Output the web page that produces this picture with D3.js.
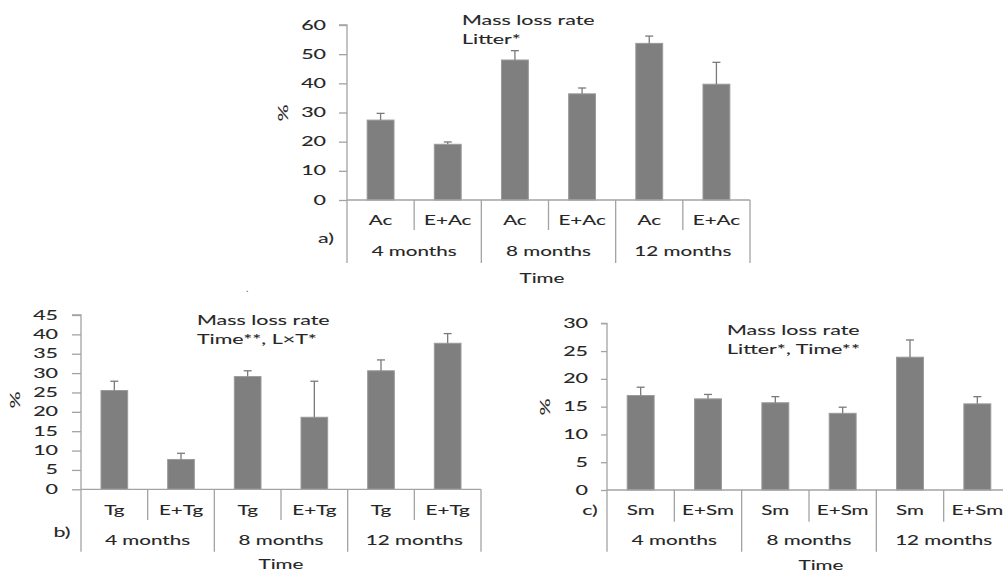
<!DOCTYPE html>
<html><head><meta charset="utf-8">
<script src="https://cdn.jsdelivr.net/npm/d3@7"></script>
<style>body{margin:0;background:#fff;} svg{display:block;}</style>
</head><body>
<svg id="c" width="1003" height="572"></svg>
<script>
const groups = ["4 months", "8 months", "12 months"];
const subA = ["Ac", "E+Ac"];
const subB = ["Tg", "E+Tg"];
const subC = ["Sm", "E+Sm"];
const meanA = [27.4, 19.1, 48.0, 36.4, 53.7, 39.7];
const errA  = [2.3, 0.8, 3.2, 2.0, 2.5, 7.5];
const meanB = [25.5, 7.7, 29.1, 18.6, 30.6, 37.7];
const errB  = [2.4, 1.6, 1.5, 9.3, 2.8, 2.5];
const meanC = [17.0, 16.4, 15.7, 13.8, 23.9, 15.5];
const errC  = [1.5, 0.8, 1.1, 1.1, 3.1, 1.3];
const ticksA = [0, 10, 20, 30, 40, 50, 60];
const ticksB = [0, 5, 10, 15, 20, 25, 30, 35, 40, 45];
const ticksC = [0, 5, 10, 15, 20, 25, 30];
const titleA = ["Mass loss rate", "Litter*"];
const titleB = ["Mass loss rate", "Time**, L\u00d7T*"];
const titleC = ["Mass loss rate", "Litter*, Time**"];

const SX = 1.65;
const FONT = "Lato, 'Open Sans', sans-serif";
const TXT = "#262626";
const AX = "#a3a3a3";
const svg = d3.select("#c");

function txt(g, x, y, s, anchor, size, rot) {
  const t = g.append("g").attr("transform", `translate(${x},${y})` + (rot ? ` rotate(${rot})` : "") + ` scale(${SX},1)`)
    .append("text").text(s)
    .attr("text-anchor", anchor || "middle")
    .attr("dy", "0.35em")
    .attr("font-family", FONT)
    .attr("font-size", size || 13)
    .attr("fill", TXT)
    .attr("stroke", TXT)
    .attr("stroke-width", 0.1);
  return t;
}

function panel(cfg) {
  const g = svg.append("g");
  const cats = [];
  groups.forEach(gr => cfg.sub.forEach(s => cats.push(gr + "|" + s)));
  const x = d3.scaleBand().domain(cats).range([cfg.x0, cfg.x1]).paddingInner(0.6).paddingOuter(0.3);
  const xg = d3.scaleBand().domain(groups).range([cfg.x0, cfg.x1]);
  const y = d3.scaleLinear().domain([0, cfg.ymax]).range([cfg.yb, cfg.yt]);

  // y axis
  const ya = d3.axisLeft(y).tickValues(cfg.ticks).tickSize(cfg.tick).tickFormat("");
  const yg = g.append("g").attr("transform", `translate(${cfg.x0},0)`).call(ya);
  yg.selectAll("path,line").attr("stroke", AX).attr("stroke-width", 1.3);
  yg.select("path").attr("d", `M${-cfg.tick},${y(cfg.ymax)}H0V${y(0)}`);
  cfg.ticks.forEach(v => txt(g, cfg.lblR, y(v), String(v), "end", 13));

  // bars
  const step = x.step();
  g.selectAll("rect.bar").data(cfg.mean).join("rect")
    .attr("x", (d, i) => x(cats[i]))
    .attr("y", d => y(d))
    .attr("width", x.bandwidth())
    .attr("height", d => y(0) - y(d))
    .attr("fill", "#7f7f7f")
    .attr("stroke", "#9a9a9a")
    .attr("stroke-width", 1);
  // error bars
  cfg.mean.forEach((m, i) => {
    const cx = x(cats[i]) + x.bandwidth() / 2;
    g.append("line").attr("x1", cx).attr("x2", cx).attr("y1", y(m)).attr("y2", y(m + cfg.err[i]))
      .attr("stroke", "#7a7a7a").attr("stroke-width", 1.3);
    g.append("line").attr("x1", cx - 4).attr("x2", cx + 4).attr("y1", y(m + cfg.err[i])).attr("y2", y(m + cfg.err[i]))
      .attr("stroke", "#7a7a7a").attr("stroke-width", 1.3);
  });

  // x axis line
  g.append("line").attr("x1", cfg.x0).attr("x2", cfg.x1).attr("y1", y(0)).attr("y2", y(0))
    .attr("stroke", AX).attr("stroke-width", 1.3);
  // dividers
  cats.forEach((c, i) => {
    const left = cfg.x0 + i * step;
    if (i % 2 === 1) {
      g.append("line").attr("x1", left).attr("x2", left).attr("y1", y(0)).attr("y2", cfg.subBot)
        .attr("stroke", AX).attr("stroke-width", 1.3);
    }
    const s = c.split("|")[1];
    txt(g, left + step / 2, cfg.subY, s, "middle", 12.5);
  });
  groups.concat([null]).forEach((gr, i) => {
    const gx = gr ? xg(gr) : cfg.x1;
    g.append("line").attr("x1", gx).attr("x2", gx).attr("y1", y(0)).attr("y2", cfg.grpBot)
      .attr("stroke", AX).attr("stroke-width", 1.3);
    if (gr) txt(g, gx + xg.bandwidth() / 2, cfg.grpY, gr, "middle", 12.5);
  });
  txt(g, cfg.timeX, cfg.timeY, "Time", "middle", 12.5);
  txt(g, cfg.lblX, cfg.lblY, cfg.label, "middle", 13);
  txt(g, cfg.pctX, cfg.pctY, "%", "middle", 13, -90);
  txt(g, cfg.titleX, cfg.titleY, cfg.title[0], "start", 13);
  txt(g, cfg.titleX, cfg.titleY + 19, cfg.title[1], "start", 13);
}

panel({sub: subA, mean: meanA, err: errA, ticks: ticksA, ymax: 60,
  x0: 347, x1: 750, yb: 200, yt: 25, tick: 8, lblR: 326,
  subBot: 230, grpBot: 263, subY: 221, grpY: 252, timeX: 542, timeY: 279,
  lblX: 326, lblY: 238, label: "a)", pctX: 283, pctY: 113,
  titleX: 462, titleY: 20, title: titleA});
panel({sub: subB, mean: meanB, err: errB, ticks: ticksB, ymax: 45,
  x0: 81, x1: 481, yb: 489.3, yt: 315, tick: 9, lblR: 58,
  subBot: 520, grpBot: 551.7, subY: 510.7, grpY: 540.7, timeX: 281, timeY: 565,
  lblX: 62, lblY: 532, label: "b)", pctX: 15, pctY: 400,
  titleX: 197, titleY: 320, title: titleB});
panel({sub: subC, mean: meanC, err: errC, ticks: ticksC, ymax: 30,
  x0: 607, x1: 1011, yb: 490, yt: 323.3, tick: 6, lblR: 588,
  subBot: 521.7, grpBot: 551.7, subY: 510.7, grpY: 540.7, timeX: 821, timeY: 566,
  lblX: 590, lblY: 510.7, label: "c)", pctX: 545, pctY: 407,
  titleX: 727, titleY: 330, title: titleC});
svg.append("text").attr("x", 246).attr("y", 292).text(".").attr("font-family", FONT).attr("font-size", 10).attr("fill", "#555");
</script>
</body></html>
